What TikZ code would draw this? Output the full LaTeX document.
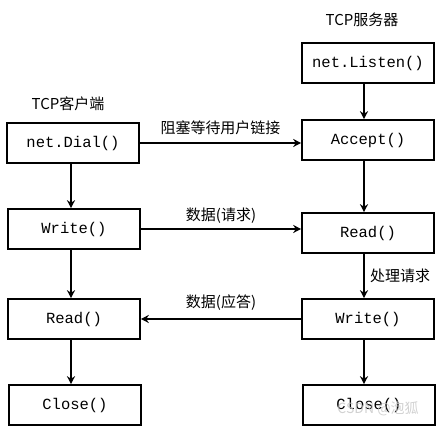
\documentclass[tikz,border=0pt]{standalone}
\usepackage{fontspec}
\setmonofont{Liberation Mono}
\newfontfamily\cjk{Noto Sans CJK SC}
\usetikzlibrary{arrows.meta}
\begin{document}
\begin{tikzpicture}[x=1pt,y=-1pt,
  box/.style={draw,line width=1.6pt,minimum width=132pt,minimum height=40pt,inner sep=0pt,font=\fontsize{15.5}{15.5}\selectfont\ttfamily},
  lbl/.style={font=\fontsize{15}{15}\selectfont\cjk},
  arr/.style={line width=1.6pt,-{Stealth[length=8pt,width=8pt]}}]
\useasboundingbox (0,0) rectangle (448,435);
\coordinate (xs) at (364,0);
\coordinate (xc) at (71,0);
% server column
\node[lbl] (ts) at (362,20) {TCP服务器};
\node[box] (listen) at (368,63) {net.Listen()};
\node[box] (accept) at (368,140) {Accept()};
\node[box] (sread) at (368,233) {Read()};
\node[box] (swrite) at (368,319) {Write()};
\node[box] (sclose) at (369,405) {Close()};
% client column
\node[lbl] (tc) at (68,104) {TCP客户端};
\node[box] (dial) at (73,143) {net.Dial()};
\node[box] (cwrite) at (74,229) {Write()};
\node[box] (cread) at (74,319) {Read()};
\node[box] (cclose) at (75,405) {Close()};
% vertical arrows
\draw[arr] (listen.south -| xs) -- (accept.north -| xs);
\draw[arr] (accept.south -| xs) -- (sread.north -| xs);
\draw[arr] (sread.south -| xs) -- node[lbl,right,xshift=2pt] (proc) {处理请求} (swrite.north -| xs);
\draw[arr] (swrite.south -| xs) -- (sclose.north -| xs);
\draw[arr] (dial.south -| xc) -- (cwrite.north -| xc);
\draw[arr] (cwrite.south -| xc) -- (cread.north -| xc);
\draw[arr] (cread.south -| xc) -- (cclose.north -| xc);
% horizontal arrows
\draw[arr] (dial.east) -- node[lbl,above,yshift=4pt] (l1) {阻塞等待用户链接} (dial.east -| accept.west);
\draw[arr] (cwrite.east) -- node[lbl,above,yshift=1pt] (l2) {数据(请求)} (cwrite.east -| sread.west);
\draw[arr] (swrite.west) -- node[lbl,above,yshift=4pt] (l3) {数据(应答)} (swrite.west -| cread.east);
% watermark
\node[font=\fontsize{14}{14}\selectfont\cjk,text=gray!45,opacity=0.8] (wm) at (378,409) {CSDN @泡狐};
\end{tikzpicture}
\end{document}
